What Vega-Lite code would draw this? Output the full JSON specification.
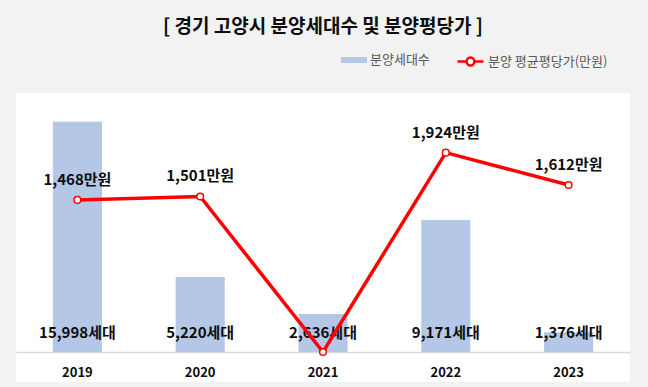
{
  "$schema": "https://vega.github.io/schema/vega-lite/v6.json",
  "width": 614,
  "height": 289,
  "autosize": {"type": "none"},
  "padding": {"left": 16, "top": 93, "right": 18, "bottom": 5},
  "background": "#F2F2F2",
  "config": {"view": {"fill": "white", "stroke": null}, "font": "Noto Sans CJK KR"},
  "title": {"text": "[ 경기 고양시 분양세대수 및 분양평당가 ]", "fontSize": 19, "fontWeight": "bold", "color": "#0D0D0D", "offset": 10, "anchor": "middle"},
  "data": {"values": [
    {"year": "2019", "units": 15998, "price": 1468},
    {"year": "2020", "units": 5220, "price": 1501},
    {"year": "2021", "units": 2636, "price": 0},
    {"year": "2022", "units": 9171, "price": 1924},
    {"year": "2023", "units": 1376, "price": 1612}
  ]},
  "encoding": {
    "x": {"field": "year", "type": "ordinal", "scale": {"paddingInner": 0.6, "paddingOuter": 0.3},
      "axis": {"title": null, "labelAngle": 0, "labelFontWeight": "bold", "labelFontSize": 13, "labelColor": "#0D0D0D", "domainColor": "#D9D9D9", "domainWidth": 1.5, "ticks": false, "tickSize": 0, "labelPadding": 14, "offset": -30}}
  },
  "layer": [
    {
      "mark": {"type": "bar"},
      "encoding": {
        "y": {"field": "units", "type": "quantitative", "scale": {"domain": [-2085.5, 18000], "nice": false, "zero": false}, "axis": null},
        "y2": {"datum": 0},
        "fill": {"datum": "분양세대수", "type": "nominal", "scale": {"range": ["#B4C7E7"]},
          "legend": {"title": null, "orient": "none", "legendX": 325, "legendY": -46, "symbolType": "M-1,-0.23H1V0.23H-1Z", "symbolSize": 676, "symbolStrokeWidth": 0, "labelFontSize": 13, "labelColor": "#595959", "labelOffset": 3}}
      }
    },
    {
      "transform": [{"calculate": "format(datum.units, ',') + '세대'", "as": "ulabel"}],
      "mark": {"type": "text", "fontSize": 15, "fontWeight": "bold", "color": "#0D0D0D", "baseline": "middle"},
      "encoding": {
        "y": {"datum": 1320, "type": "quantitative", "scale": {"domain": [-2085.5, 18000], "nice": false, "zero": false}, "axis": null},
        "text": {"field": "ulabel"}
      }
    },
    {
      "mark": {"type": "line", "strokeWidth": 3.5, "point": {"filled": true, "fill": "white", "stroke": "#FF0000", "strokeWidth": 1.5, "size": 45}},
      "encoding": {
        "y": {"field": "price", "type": "quantitative", "scale": {"domain": [-289.6, 2500], "nice": false, "zero": false}, "axis": null},
        "stroke": {"datum": "분양 평균평당가(만원)", "type": "nominal", "scale": {"range": ["#FF0000"]},
          "legend": {"title": null, "orient": "none", "legendX": 440, "legendY": -46, "symbolType": "M-1,0H-0.3M0.3,0H1M0.3,0A0.3,0.3 0 1,1 -0.3,0A0.3,0.3 0 1,1 0.3,0", "symbolSize": 676, "symbolStrokeWidth": 2.5, "symbolFillColor": "white", "symbolStrokeColor": "#FF0000", "labelFontSize": 13, "labelColor": "#595959", "labelOffset": 3}}
      }
    },
    {
      "transform": [{"filter": "datum.price > 0"}, {"calculate": "format(datum.price, ',') + '만원'", "as": "plabel"}],
      "mark": {"type": "text", "fontSize": 15, "fontWeight": "bold", "color": "#0D0D0D", "baseline": "middle", "dy": -20},
      "encoding": {
        "y": {"field": "price", "type": "quantitative", "scale": {"domain": [-289.6, 2500], "nice": false, "zero": false}, "axis": null},
        "text": {"field": "plabel"}
      }
    }
  ],
  "resolve": {"scale": {"y": "independent"}}
}
